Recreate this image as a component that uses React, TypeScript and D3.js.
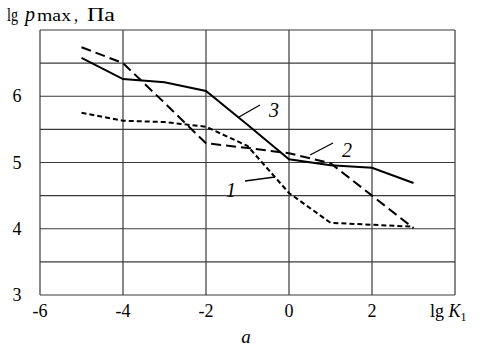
import React, { useEffect, useRef } from 'react';
import * as d3 from 'd3';

// lg K1 positions and lg p_max values
const xs = [-5, -4, -3, -2, -1, 0, 1, 2, 3];
const curve1 = [5.75, 5.63, 5.61, 5.54, 5.25, 4.54, 4.09, 4.06, 4.03];
const curve2 = [6.74, 6.5, 5.9, 5.29, 5.22, 5.14, 4.99, 4.5, 4.01];
const curve3 = [6.58, 6.26, 6.21, 6.08, 5.57, 5.05, 4.96, 4.92, 4.69];
const xTicks = [-6, -4, -2, 0, 2];
const yTicks = [3, 4, 5, 6];

const W = 492;
const H = 348;

const App = () => {
  const svgRef = useRef<SVGSVGElement>(null);

  useEffect(() => {
    const svg = d3.select(svgRef.current);
    svg.selectAll('*').remove();

    const x = d3.scaleLinear().domain([-6, 4]).range([40, 455]);
    const y = d3.scaleLinear().domain([3, 7]).range([295, 30]);
    const font = '"Liberation Serif", "Times New Roman", serif';
    const grid = '#3a3a3a';

    // grid
    const g = svg.append('g');
    g.selectAll('.vg')
      .data(d3.range(-6, 4.01, 2))
      .join('line')
      .attr('x1', (d) => x(d)).attr('x2', (d) => x(d))
      .attr('y1', y(3)).attr('y2', y(7))
      .attr('stroke', grid).attr('stroke-width', 1.2);
    g.selectAll('.hg')
      .data(d3.range(3, 7.01, 0.5))
      .join('line')
      .attr('x1', x(-6)).attr('x2', x(4))
      .attr('y1', (d) => y(d)).attr('y2', (d) => y(d))
      .attr('stroke', grid).attr('stroke-width', 1.2);

    // tick labels
    svg.selectAll('.yt')
      .data(yTicks)
      .join('text')
      .attr('x', 17).attr('y', (d) => y(d) + 6)
      .attr('text-anchor', 'middle')
      .attr('font-family', font).attr('font-size', 18)
      .text((d) => d);
    svg.selectAll('.xt')
      .data(xTicks)
      .join('text')
      .attr('x', (d) => x(d)).attr('y', 317)
      .attr('text-anchor', 'middle')
      .attr('font-family', font).attr('font-size', 18)
      .text((d) => d);

    // axis titles
    const xt = svg.append('text').attr('x', 430).attr('y', 317)
      .attr('font-family', font).attr('font-size', 18);
    xt.append('tspan').text('lg ');
    xt.append('tspan').attr('font-style', 'italic').text('K');
    xt.append('tspan').attr('font-size', 12).attr('dy', 4).text('1');

    const title = [
      { t: 'lg', x: 7, size: 18, w: 11, it: false },
      { t: 'p', x: 25, size: 22, w: 10, it: true },
      { t: 'max', x: 37, size: 16, w: 34, it: false },
      { t: ',', x: 74, size: 18, w: 4, it: false },
      { t: 'Па', x: 87, size: 19, w: 28, it: false },
    ];
    title.forEach((d) => {
      svg.append('text')
        .attr('x', d.x).attr('y', 21)
        .attr('font-family', font).attr('font-size', d.size)
        .attr('font-style', d.it ? 'italic' : null)
        .attr('textLength', d.w).attr('lengthAdjust', 'spacingAndGlyphs')
        .text(d.t);
    });

    svg.append('text').attr('x', 246).attr('y', 343)
      .attr('text-anchor', 'middle')
      .attr('font-family', font).attr('font-size', 19).attr('font-style', 'italic')
      .text('a');

    // curves
    const line = d3.line<number>().x((_, i) => x(xs[i])).y((d) => y(d));
    const curves: [number[], string][] = [
      [curve1, '5,3'],
      [curve2, '10,5'],
      [curve3, ''],
    ];
    curves.forEach(([vals, dash]) => {
      svg.append('path')
        .datum(vals)
        .attr('d', line)
        .attr('fill', 'none')
        .attr('stroke', '#000')
        .attr('stroke-width', 2)
        .attr('stroke-dasharray', dash || null);
    });

    // curve labels with leader lines
    const labels = [
      { t: '1', tx: 231, ty: 197, l: [245, 181, 275, 177] },
      { t: '2', tx: 347, ty: 157, l: [310, 155, 333, 143] },
      { t: '3', tx: 274, ty: 117, l: [239, 117, 260, 105] },
    ];
    labels.forEach((d) => {
      svg.append('line')
        .attr('x1', d.l[0]).attr('y1', d.l[1]).attr('x2', d.l[2]).attr('y2', d.l[3])
        .attr('stroke', '#000').attr('stroke-width', 1.3);
      svg.append('text').attr('x', d.tx).attr('y', d.ty)
        .attr('text-anchor', 'middle')
        .attr('font-family', font).attr('font-size', 20).attr('font-style', 'italic')
        .text(d.t);
    });
  }, []);

  return (
    <svg
      ref={svgRef}
      width={W}
      height={H}
      style={{ position: 'absolute', left: 0, top: 0, background: '#fff' }}
    />
  );
};

export default App;
